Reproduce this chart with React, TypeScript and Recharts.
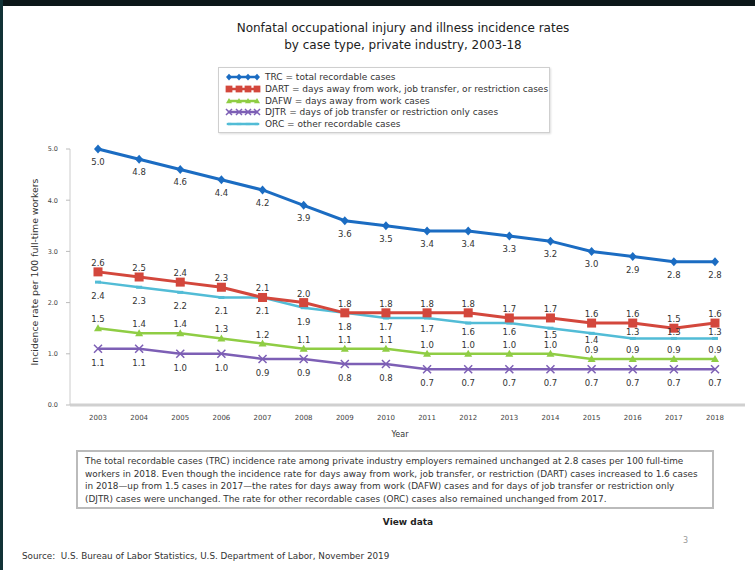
import React from 'react';
import { LineChart, Line, XAxis, YAxis, LabelList } from 'recharts';

const years = ['2003','2004','2005','2006','2007','2008','2009','2010','2011','2012','2013','2014','2015','2016','2017','2018'];
const trc = [5.0,4.8,4.6,4.4,4.2,3.9,3.6,3.5,3.4,3.4,3.3,3.2,3.0,2.9,2.8,2.8];
const dart = [2.6,2.5,2.4,2.3,2.1,2.0,1.8,1.8,1.8,1.8,1.7,1.7,1.6,1.6,1.5,1.6];
const dafw = [1.5,1.4,1.4,1.3,1.2,1.1,1.1,1.1,1.0,1.0,1.0,1.0,0.9,0.9,0.9,0.9];
const djtr = [1.1,1.1,1.0,1.0,0.9,0.9,0.8,0.8,0.7,0.7,0.7,0.7,0.7,0.7,0.7,0.7];
const orc = [2.4,2.3,2.2,2.1,2.1,1.9,1.8,1.7,1.7,1.6,1.6,1.5,1.4,1.3,1.3,1.3];
const yTicks = [0, 1, 2, 3, 4, 5];

const data = years.map((y, i) => ({ year: y, TRC: trc[i], DART: dart[i], DAFW: dafw[i], DJTR: djtr[i], ORC: orc[i] }));

// label placement (layout only): vertical offset of ORC labels, squeezed where lines are close
const orcLabelDy = [14, 14, 14, 14, 14, 14, 14, 9, 11, 9, 9, 7, 7, -6, -6, -6];

const C = { TRC: '#1b6cc2', DART: '#d3473c', DAFW: '#8fcd44', DJTR: '#7d5fb5', ORC: '#52bcd6' };
const FONT = '"DejaVu Sans", Verdana, sans-serif';

const marker = (type: string, cx: number, cy: number, key?: any, s = 1) => {
  const c = (C as any)[type];
  if (type === 'TRC') return <path key={key} d={`M${cx},${cy - 4.5 * s}L${cx + 4 * s},${cy}L${cx},${cy + 4.5 * s}L${cx - 4 * s},${cy}Z`} fill={c} />;
  if (type === 'DART') return <rect key={key} x={cx - 4.5 * s} y={cy - 4.5 * s} width={9 * s} height={9 * s} fill={c} />;
  if (type === 'DAFW') return <path key={key} d={`M${cx},${cy - 4 * s}L${cx + 4 * s},${cy + 3 * s}L${cx - 4 * s},${cy + 3 * s}Z`} fill={c} />;
  if (type === 'DJTR') return (
    <g key={key} stroke={c} strokeWidth={1.5} fill="none">
      <path d={`M${cx - 4 * s},${cy - 4 * s}L${cx + 4 * s},${cy + 4 * s}M${cx - 4 * s},${cy + 4 * s}L${cx + 4 * s},${cy - 4 * s}`} />
    </g>
  );
  return <rect key={key} x={cx - 3 * s} y={cy - 1.5 * s} width={6 * s} height={3 * s} fill={c} />;
};

const dotFor = (type: string) => (p: any) => marker(type, p.cx, p.cy, `${type}-${p.index}`);

const labelFor = (dy: number | number[]) => (p: any) => (
  <text key={p.index} x={p.x} y={p.y + (Array.isArray(dy) ? dy[p.index] : dy)} textAnchor="middle" dominantBaseline="central" fontSize={8.5} fill="#333" fontFamily={FONT}>
    {Number(p.value).toFixed(1)}
  </text>
);

const legendItems = [
  { key: 'TRC', text: 'TRC = total recordable cases' },
  { key: 'DART', text: 'DART = days away from work, job transfer, or restriction cases' },
  { key: 'DAFW', text: 'DAFW = days away from work cases' },
  { key: 'DJTR', text: 'DJTR = days of job transfer or restriction only cases' },
  { key: 'ORC', text: 'ORC = other recordable cases' },
];

const paragraph = [
  'The total recordable cases (TRC) incidence rate among private industry employers remained unchanged at 2.8 cases per 100 full-time',
  'workers in 2018. Even though the incidence rate for days away from work, job transfer, or restriction (DART) cases increased to 1.6 cases',
  'in 2018\u2014up from 1.5 cases in 2017\u2014the rates for days away from work (DAFW) cases and for days of job transfer or restriction only',
  '(DJTR) cases were unchanged. The rate for other recordable cases (ORC) cases also remained unchanged from 2017.',
];

export default function App() {
  return (
    <div style={{ position: 'absolute', left: 0, top: 0, width: 755, height: 570, background: '#fff', fontFamily: FONT, overflow: 'hidden' }}>
      <LineChart width={755} height={570} data={data} margin={{ top: 149, right: 10, bottom: 135, left: 0 }}>
        <XAxis dataKey="year" height={30} padding={{ left: 28, right: 30 }} tickLine={false}
          axisLine={{ stroke: '#d0d0d0', strokeWidth: 3 }}
          tick={{ fontSize: 7, fill: '#444', fontFamily: FONT }} tickMargin={4} />
        <YAxis width={70} domain={[0, 5]} ticks={yTicks} tickFormatter={(v: number) => v.toFixed(1)}
          tick={{ fontSize: 6.5, fill: '#444', fontFamily: FONT }} tickSize={4} tickMargin={8}
          tickLine={{ stroke: '#bbb' }} axisLine={{ stroke: '#ccc' }} />
        <Line dataKey="ORC" stroke={C.ORC} strokeWidth={2.5} dot={dotFor('ORC')} isAnimationActive={false}>
          <LabelList dataKey="ORC" content={labelFor(orcLabelDy)} />
        </Line>
        <Line dataKey="DJTR" stroke={C.DJTR} strokeWidth={2.5} dot={dotFor('DJTR')} isAnimationActive={false}>
          <LabelList dataKey="DJTR" content={labelFor(14)} />
        </Line>
        <Line dataKey="DAFW" stroke={C.DAFW} strokeWidth={2.5} dot={dotFor('DAFW')} isAnimationActive={false}>
          <LabelList dataKey="DAFW" content={labelFor(-9)} />
        </Line>
        <Line dataKey="DART" stroke={C.DART} strokeWidth={3} dot={dotFor('DART')} isAnimationActive={false}>
          <LabelList dataKey="DART" content={labelFor(-9)} />
        </Line>
        <Line dataKey="TRC" stroke={C.TRC} strokeWidth={3} dot={dotFor('TRC')} isAnimationActive={false}>
          <LabelList dataKey="TRC" content={labelFor(13)} />
        </Line>
      </LineChart>

      {/* dark photo borders */}
      <div style={{ position: 'absolute', left: 0, top: 0, width: 755, height: 6, background: '#0c1719' }} />
      <div style={{ position: 'absolute', left: 0, top: 0, width: 3, height: 570, background: '#123236' }} />

      {/* title */}
      <div style={{ position: 'absolute', left: 0, top: 20, width: 806, textAlign: 'center', fontSize: 12, lineHeight: '17px', color: '#222' }}>
        Nonfatal occupational injury and illness incidence rates<br />by case type, private industry, 2003-18
      </div>

      {/* legend */}
      <div style={{ position: 'absolute', left: 218, top: 67, width: 330, height: 64, border: '1px solid #cfcfcf', boxShadow: '1px 1px 2px #ddd', background: '#fff' }}>
        {legendItems.map((it, i) => (
          <div key={it.key} style={{ position: 'absolute', left: 6, top: 3 + i * 11.8, height: 12, display: 'flex', alignItems: 'center' }}>
            <svg width={36} height={12}>
              <line x1={3} y1={6} x2={33} y2={6} stroke={(C as any)[it.key]} strokeWidth={2.5} />
              {[4, 14, 23, 32].map((x, j) => marker(it.key, x, 6, j, 0.75))}
            </svg>
            <span style={{ fontSize: 9, color: '#333', marginLeft: 4, whiteSpace: 'nowrap' }}>{it.text}</span>
          </div>
        ))}
      </div>

      {/* y axis label */}
      <div style={{ position: 'absolute', left: 34, top: 272, transform: 'translate(-50%, -50%) rotate(-90deg)', fontSize: 9.3, color: '#333', whiteSpace: 'nowrap' }}>
        Incidence rate per 100 full-time workers
      </div>

      {/* x axis title */}
      <div style={{ position: 'absolute', left: 0, top: 430, width: 800, textAlign: 'center', fontSize: 8, color: '#333' }}>Year</div>

      {/* text box */}
      <div style={{ position: 'absolute', left: 76, top: 450, width: 634, height: 55, border: '2px solid #bbb', background: '#fff' }}>
        <div style={{ position: 'absolute', left: 7, top: 3, fontSize: 8.9, lineHeight: '12.7px', color: '#333', whiteSpace: 'nowrap' }}>
          {paragraph.map((l, i) => <div key={i}>{l}</div>)}
        </div>
      </div>

      <div style={{ position: 'absolute', left: 0, top: 517, width: 816, textAlign: 'center', fontSize: 9, fontWeight: 'bold', color: '#222' }}>View data</div>
      <div style={{ position: 'absolute', left: 683, top: 536, fontSize: 8, color: '#999' }}>3</div>
      <div style={{ position: 'absolute', left: 22, top: 551, fontSize: 8.8, color: '#333', whiteSpace: 'nowrap' }}>
        Source:&nbsp; U.S. Bureau of Labor Statistics, U.S. Department of Labor, November 2019
      </div>
    </div>
  );
}
